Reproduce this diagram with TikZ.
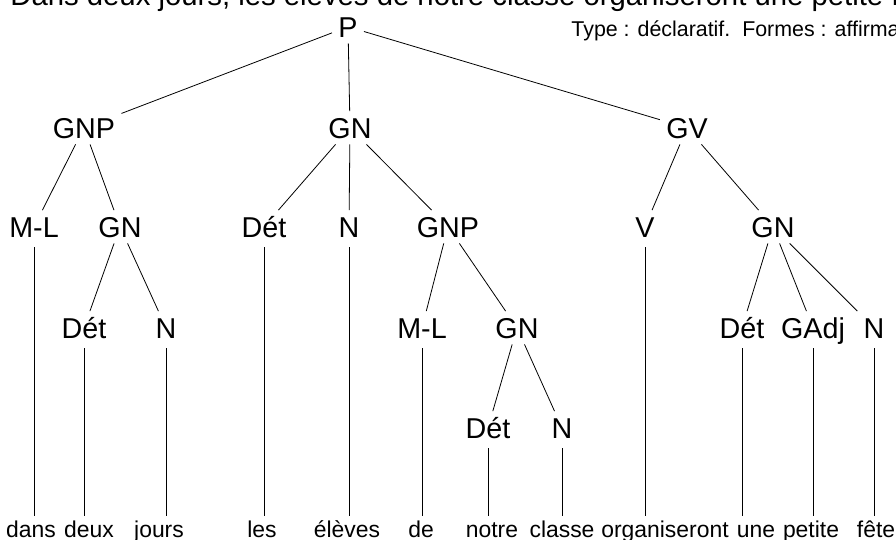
\documentclass[tikz,border=0pt]{standalone}
\usepackage{fontspec}
\setmainfont{Liberation Sans}
\tikzset{
	cat/.style={font=\fontsize{28.7}{30}\selectfont, inner sep=6pt, text height=20.5pt, text depth=0pt, anchor=base},
	mot/.style={font=\fontsize{22.9}{24}\selectfont, inner sep=4pt, text height=16.5pt, text depth=0pt, anchor=base},
	feuille/.style={shorten <=4pt}
}

\begin{document}
\begin{tikzpicture}[x=1pt, y=-1pt, line width=0.8pt]
		\useasboundingbox (0,0) rectangle (896,539);
		\clip (0,0) rectangle (896,539);

		\node[anchor=base west, inner sep=0pt, font=\fontsize{29.3}{30}\selectfont] (phrase) at (10,5) {Dans deux jours, les élèves de notre classe organiseront une petite fête.};
		\node[anchor=base west, inner sep=0pt, font=\fontsize{21.4}{22}\selectfont] (type) at (571,36) {Type : déclaratif.\ \ Formes : affirmative.};

		% categories
		\node[cat] (p) at (348,37) {P};

		\node[cat] (gnp) at (84,138) {GNP};
		\node[cat] (gn) at (350,138) {GN};
		\node[cat] (gv) at (687,138) {GV};

		\node[cat] (ml1) at (34,237) {M-L};
		\node[cat] (gn1) at (120,237) {GN};
		\node[cat] (det2) at (264,237) {Dét};
		\node[cat] (n2) at (349,237) {N};
		\node[cat] (gnp2) at (448,237) {GNP};
		\node[cat] (v) at (645,237) {V};
		\node[cat] (gn3) at (773,237) {GN};

		\node[cat] (det1) at (84,338) {Dét};
		\node[cat] (n1) at (166,338) {N};
		\node[cat] (ml2) at (422,338) {M-L};
		\node[cat] (gn2) at (517,338) {GN};
		\node[cat] (det4) at (742,338) {Dét};
		\node[cat] (gadj) at (813,338) {GAdj};
		\node[cat] (n4) at (874,338) {N};

		\node[cat] (det3) at (488,438) {Dét};
		\node[cat] (n3) at (562,438) {N};

		% mots
		\node[mot] (dans) at (31,537) {dans};
		\node[mot] (deux) at (89,537) {deux};
		\node[mot] (jours) at (159,537) {jours};
		\node[mot] (les) at (262,537) {les};
		\node[mot] (eleves) at (347,537) {élèves};
		\node[mot] (de) at (421,537) {de};
		\node[mot] (notre) at (492,537) {notre};
		\node[mot] (classe) at (562,537) {classe};
		\node[mot] (organiseront) at (665,537) {organiseront};
		\node[mot] (une) at (756,537) {une};
		\node[mot] (petite) at (811,537) {petite};
		\node[mot] (fete) at (876,537) {fête};

		% branches
		\draw (p) -- (gnp);
		\draw (p) -- (gn);
		\draw (p) -- (gv);

		\draw (gnp) -- (ml1);
		\draw (gnp) -- (gn1);
		\draw (gn) -- (det2);
		\draw (gn) -- (n2);
		\draw (gn) -- (gnp2);
		\draw (gv) -- (v);
		\draw (gv) -- (gn3);

		\draw (gn1) -- (det1);
		\draw (gn1) -- (n1);
		\draw (gnp2) -- (ml2);
		\draw (gnp2) -- (gn2);
		\draw (gn3) -- (det4);
		\draw (gn3) -- (gadj);
		\draw (gn3) -- (n4);

		\draw (gn2) -- (det3);
		\draw (gn2) -- (n3);

		% feuilles
		\draw[feuille] (ml1) -- (ml1 |- dans.north);
		\draw[feuille] (det1) -- (det1 |- deux.north);
		\draw[feuille] (n1) -- (n1 |- jours.north);
		\draw[feuille] (det2) -- (det2 |- les.north);
		\draw[feuille] (n2) -- (n2 |- eleves.north);
		\draw[feuille] (ml2) -- (ml2 |- de.north);
		\draw[feuille] (det3) -- (det3 |- notre.north);
		\draw[feuille] (n3) -- (n3 |- classe.north);
		\draw[feuille] (v) -- (v |- organiseront.north);
		\draw[feuille] (det4) -- (det4 |- une.north);
		\draw[feuille] (gadj) -- (gadj |- petite.north);
		\draw[feuille] (n4) -- (n4 |- fete.north);
	\end{tikzpicture}
\end{document}
